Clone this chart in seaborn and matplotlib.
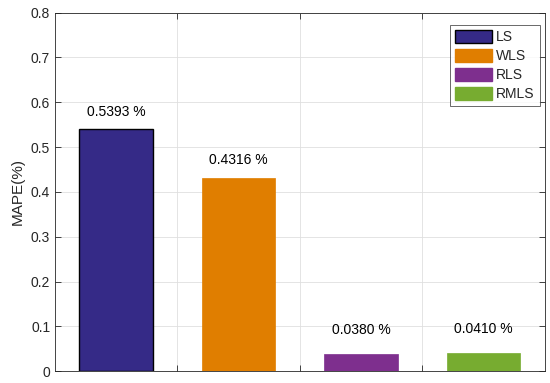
import matplotlib
matplotlib.use("Agg")
import matplotlib.pyplot as plt
import seaborn as sns
import pandas as pd

sns.set_style("ticks")
plt.rcParams['font.family'] = ['Liberation Sans', 'DejaVu Sans']

methods = ['LS', 'WLS', 'RLS', 'RMLS']
mape = [0.5393, 0.4316, 0.0380, 0.0410]
colors = ['#352A87', '#E07E00', '#7E2F8E', '#77AC30']

df = pd.DataFrame({'method': methods, 'mape': mape})

fig, ax = plt.subplots(figsize=(5.5, 3.83), dpi=100)
fig.subplots_adjust(left=0.1, right=0.99, top=0.967, bottom=0.031)

sns.barplot(data=df, x='method', y='mape', hue='method', palette=colors,
            dodge=False, width=0.6, saturation=1, legend=False, ax=ax)

# black outline on first bar only, like the original
for i, p in enumerate(ax.patches):
    if i == 0:
        p.set_edgecolor('black')
        p.set_linewidth(1.0)
    else:
        p.set_edgecolor(p.get_facecolor())
        p.set_linewidth(0.5)

for i, v in enumerate(mape):
    off = 0.04 if v > 0.1 else 0.053
    ax.text(i, v + off, f'{v:.4f} %', ha='center', va='center', fontsize=10,
            color='black')

ax.set_xlim(-0.5, 3.5)
ax.set_ylim(0, 0.8)
ax.set_xticks([0.5, 1.5, 2.5])
ax.set_xticklabels([])
ax.set_yticks([0, 0.1, 0.2, 0.3, 0.4, 0.5, 0.6, 0.7, 0.8])
ax.set_yticklabels(['0', '0.1', '0.2', '0.3', '0.4', '0.5', '0.6', '0.7', '0.8'])
ax.set_xlabel('')
ax.set_ylabel('MAPE(%)', fontsize=11)
ax.tick_params(direction='in', length=4, width=0.6, labelsize=10,
               top=True, right=True, colors='#262626')
ax.grid(True, color='#DFDFDF', linewidth=0.6)
ax.set_axisbelow(True)
for s in ax.spines.values():
    s.set_visible(True)
    s.set_color('#262626')
    s.set_linewidth(0.6)

handles = [plt.Rectangle((0, 0), 1, 1, facecolor=c,
                         edgecolor='black' if i == 0 else c, linewidth=1.0)
           for i, c in enumerate(colors)]
leg = ax.legend(handles, methods, loc='upper right', bbox_to_anchor=(0.99, 0.965),
                fontsize=10, frameon=True, fancybox=False, edgecolor='#262626',
                handlelength=2.7, handleheight=1.05, handletextpad=0.3,
                labelspacing=0.35, borderpad=0.35, borderaxespad=0)
leg.get_frame().set_linewidth(0.6)

fig.savefig('out.png', dpi=100)
